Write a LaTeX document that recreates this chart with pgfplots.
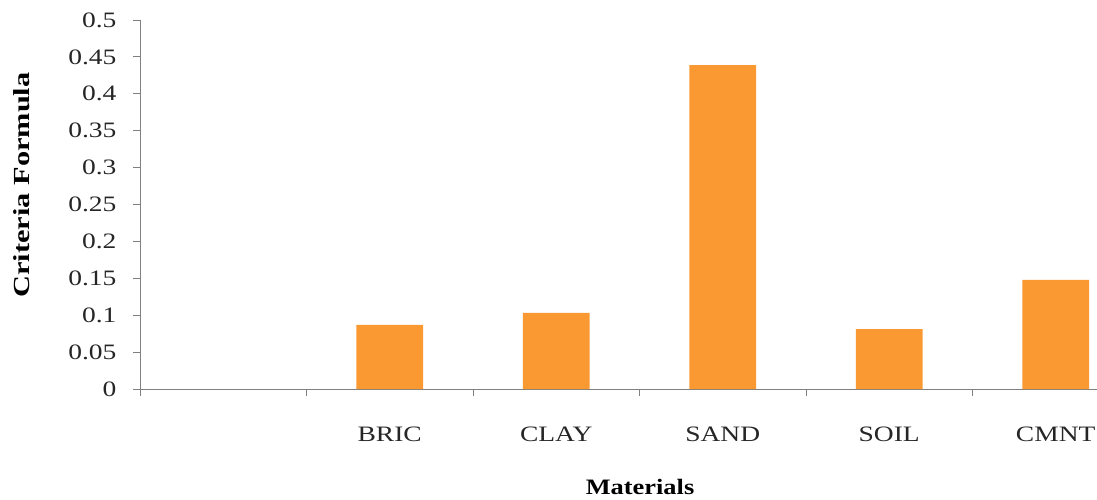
\documentclass[border=0pt]{standalone}
\usepackage{pgfplots}
\pgfplotsset{compat=1.18}
\usepackage{fontspec}
\setmainfont{Liberation Serif}
\definecolor{barorange}{RGB}{250,152,50}
\definecolor{axgray}{RGB}{128,128,128}
\newcommand\sx[1]{\scalebox{1.25}[1]{#1}}
\begin{document}
\begin{tikzpicture}
\path[use as bounding box] (-140pt,-110pt) rectangle (957pt,389pt);
\begin{axis}[
  at={(0,0)}, anchor=south west,
  scale only axis,
  width=957pt, height=369pt,
  xmin=-0.5, xmax=5.248,
  ymin=0, ymax=0.5,
  axis x line*=bottom, axis y line*=left,
  axis line style={draw=axgray, line width=0.9pt},
  tick align=outside,
  major tick length=7pt,
  tick style={draw=axgray, line width=0.9pt},
  xtick={-0.5,0.5,1.5,2.5,3.5,4.5},
  xticklabels={},
  extra x ticks={1,2,3,4,5},
  extra x tick labels={\sx{BRIC},\sx{CLAY},\sx{SAND},\sx{SOIL},\sx{CMNT}},
  extra x tick style={major tick length=0pt, tick style={draw=none},
     xticklabel style={font=\fontsize{22}{26}\selectfont, text=black!85, anchor=base, yshift=-52pt}},
  ytick={0,0.05,0.1,0.15,0.2,0.25,0.3,0.35,0.4,0.45,0.5},
  yticklabels={\sx{0},\sx{0.05},\sx{0.1},\sx{0.15},\sx{0.2},\sx{0.25},\sx{0.3},\sx{0.35},\sx{0.4},\sx{0.45},\sx{0.5}},
  yticklabel style={font=\fontsize{22}{26}\selectfont, text=black!85, anchor=east, xshift=-13pt},
  every axis y label/.style={at={(axis description cs:0,0.553)}, xshift=-118pt, rotate=90, anchor=center, font=\bfseries\fontsize{23}{27}\selectfont},
  every axis x label/.style={at={(axis description cs:0.5225,0)}, yshift=-98pt, anchor=center, font=\bfseries\fontsize{22}{26}\selectfont},
  ylabel={\scalebox{1.32}[1]{Criteria Formula}},
  xlabel={\scalebox{1.2}[1]{Materials}},
  ybar, bar width=0.4,
  clip=false,
]
\addplot[fill=barorange, draw=none] coordinates {(1,0.087) (2,0.103) (3,0.439) (4,0.081) (5,0.148)};
\end{axis}
\end{tikzpicture}
\end{document}
